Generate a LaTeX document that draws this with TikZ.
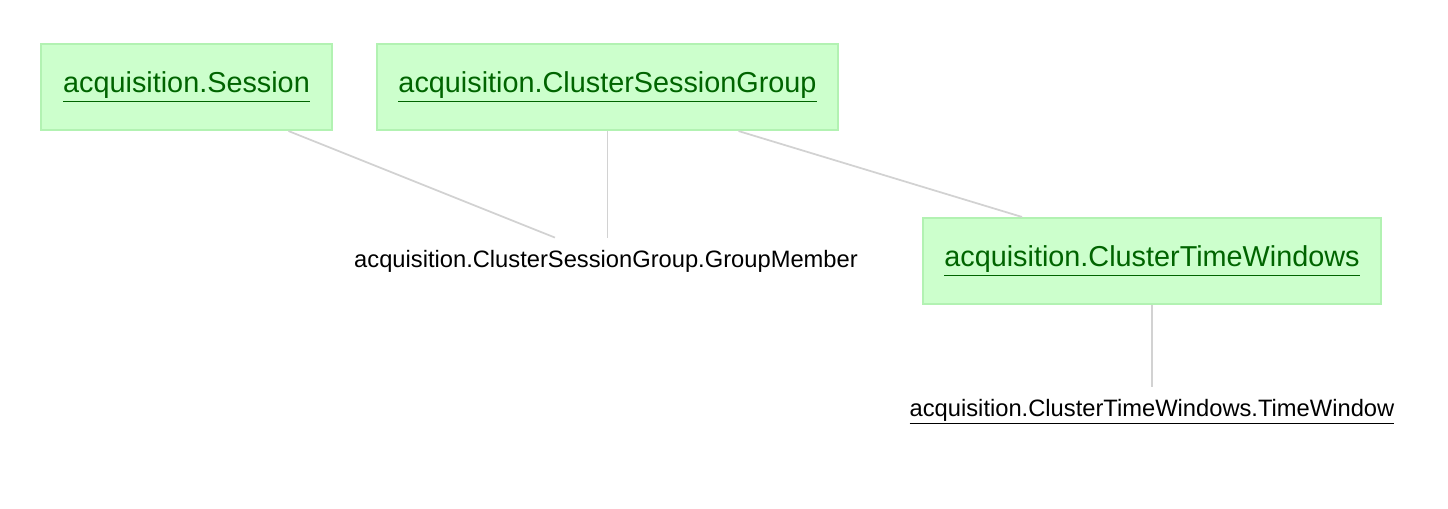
\documentclass[tikz,border=0pt]{standalone}
\usepackage{fontspec}
\setmainfont{Liberation Sans}
\usetikzlibrary{calc}
\definecolor{tblfill}{RGB}{204,255,204}
\definecolor{tbldraw}{RGB}{178,242,178}
\definecolor{tbltext}{RGB}{0,100,0}
\definecolor{linkgray}{RGB}{210,210,210}
\tikzstyle{tblbox} = [draw=tbldraw, fill=tblfill, line width=1.2pt, minimum height=1.72cm, text=tbltext, font={\fontsize{16.4}{19}\selectfont}]
\tikzstyle{partlabel} = [anchor=center, text=black, font={\fontsize{13.5}{16}\selectfont}, inner sep=0.24cm]
\tikzstyle{link} = [draw=linkgray, line width=1pt]

\begin{document}
\begin{tikzpicture}[x=0.02cm, y=-0.02cm]
  \useasboundingbox (0,0) rectangle (1448,508);

  % master tables
  \node[at={(186.5,87)}, tblbox, minimum width=5.82cm] (sess) {\underline{acquisition.Session}};
  \node[at={(607.5,87)}, tblbox, minimum width=9.22cm] (csg) {\underline{acquisition.ClusterSessionGroup}};
  \node[at={(1152,261)}, tblbox, minimum width=9.16cm] (ctw) {\underline{acquisition.ClusterTimeWindows}};

  % part tables
  \node[at={(606,261)}, partlabel] (gm) {acquisition.ClusterSessionGroup.GroupMember};
  \node[at={(1152,412)}, partlabel] (tw) {\underline{acquisition.ClusterTimeWindows.TimeWindow}};

  \draw[link] ($(sess.south)+(102,0)$) -- ($(gm.north)+(-51,0)$);
  \draw[link] (csg.south) -- (csg.south |- gm.north);
  \draw[link] ($(csg.south)+(131,0)$) -- ($(ctw.north)+(-130,0)$);
  \draw[link] (ctw.south) -- (tw.north);

\end{tikzpicture}
\end{document}
